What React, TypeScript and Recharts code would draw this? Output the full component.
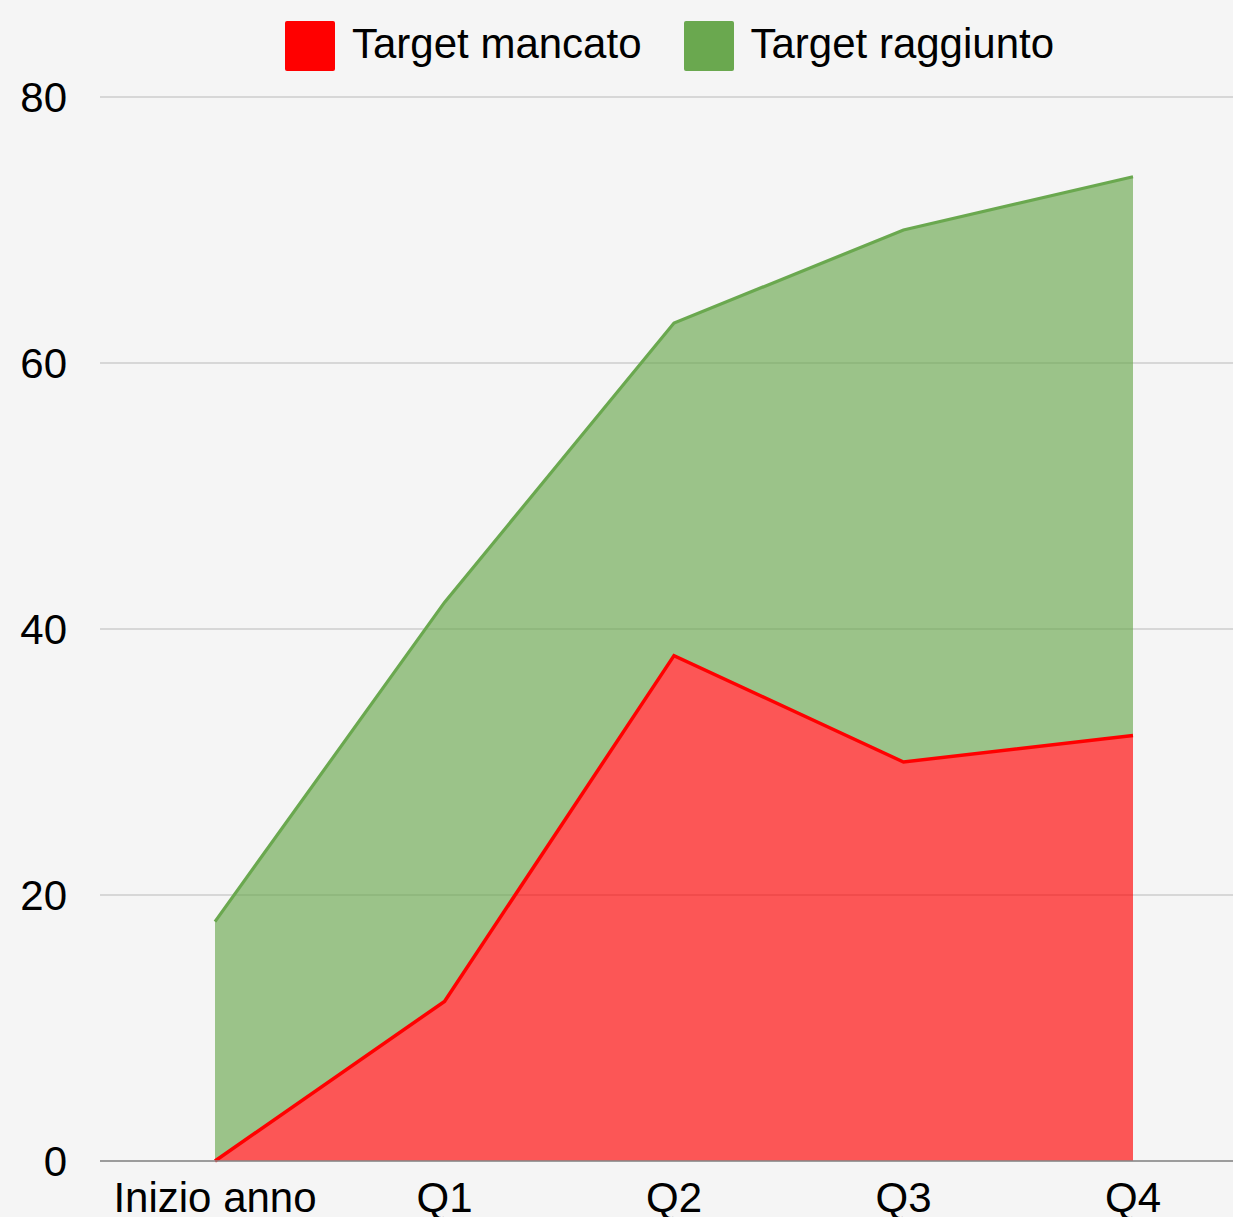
import React from 'react'
import {
  ComposedChart, Area, Line, XAxis, YAxis, CartesianGrid, Legend,
} from 'recharts'

const PERIODS = ['Inizio anno', 'Q1', 'Q2', 'Q3', 'Q4']
const MANCATO = [0, 12, 38, 30, 32]
const RAGGIUNTO = [18, 30, 25, 40, 42]
const Y_TICKS = [0, 20, 40, 60, 80]

const SERIES = [
  { key: 'mancato', name: 'Target mancato', color: '#ff0000' },
  { key: 'raggiunto', name: 'Target raggiunto', color: '#6aa84f' },
]

const FONT = '"Liberation Sans", Arial, sans-serif'

const data = PERIODS.map((p, i) => ({
  period: p,
  mancato: MANCATO[i],
  raggiunto: RAGGIUNTO[i],
}))

// top edge of the stack, used for the outline drawn above both fills
const stackTop = (d: any) => d.mancato + d.raggiunto

function LegendBox() {
  return (
    <div style={{ display: 'flex', alignItems: 'center', fontFamily: FONT }}>
      {SERIES.map((s, i) => (
        <div key={s.key} style={{
          display: 'flex', alignItems: 'center',
          marginLeft: i === 0 ? 0 : 42,
        }}>
          <span style={{
            width: 50, height: 50, background: s.color, borderRadius: 2,
            display: 'inline-block',
          }} />
          <span style={{
            marginLeft: 17, fontSize: 42, lineHeight: '50px', color: '#000',
            position: 'relative', top: -2,
          }}>
            {s.name}
          </span>
        </div>
      ))}
    </div>
  )
}

export default function App() {
  return (
    <div style={{
      position: 'fixed', left: 0, top: 0, width: 1233, height: 1217,
      overflow: 'hidden', background: '#f5f5f5',
    }}>
      <ComposedChart width={1248} height={1225} data={data}
                     margin={{ top: 97, right: 0, left: 0, bottom: 4 }}>
        <CartesianGrid vertical={false} stroke="#cccccc" strokeWidth={1.5} />
        <XAxis dataKey="period"
               padding={{ left: 115, right: 115 }}
               axisLine={{ stroke: '#888', strokeWidth: 1.5 }}
               tickLine={false} tickSize={0} tickMargin={21} height={60}
               tick={{ fontSize: 42, fill: '#000', fontFamily: FONT }}
               interval={0} />
        <YAxis domain={[0, 80]} ticks={Y_TICKS} width={100}
               axisLine={false} tickLine={false} tickSize={0} tickMargin={33}
               tick={{ fontSize: 42, fill: '#000', fontFamily: FONT }} />
        <Legend layout="horizontal" verticalAlign="middle" align="center"
                content={<LegendBox />}
                wrapperStyle={{ top: 21, left: 285, width: 'auto' }} />
        {SERIES.map(s => (
          <Area key={s.key}
                type="linear"
                dataKey={s.key}
                name={s.name}
                stackId="1"
                stroke="none"
                fill={s.color}
                fillOpacity={0.65}
                dot={false}
                activeDot={false}
                isAnimationActive={false} />
        ))}
        <Line type="linear" dataKey="mancato" stroke="#ff0000" strokeWidth={3.5}
              dot={false} activeDot={false} legendType="none" isAnimationActive={false} />
        <Line type="linear" dataKey={stackTop} stroke="#6aa84f" strokeWidth={3.2}
              dot={false} activeDot={false} legendType="none" isAnimationActive={false} />
      </ComposedChart>
    </div>
  )
}
